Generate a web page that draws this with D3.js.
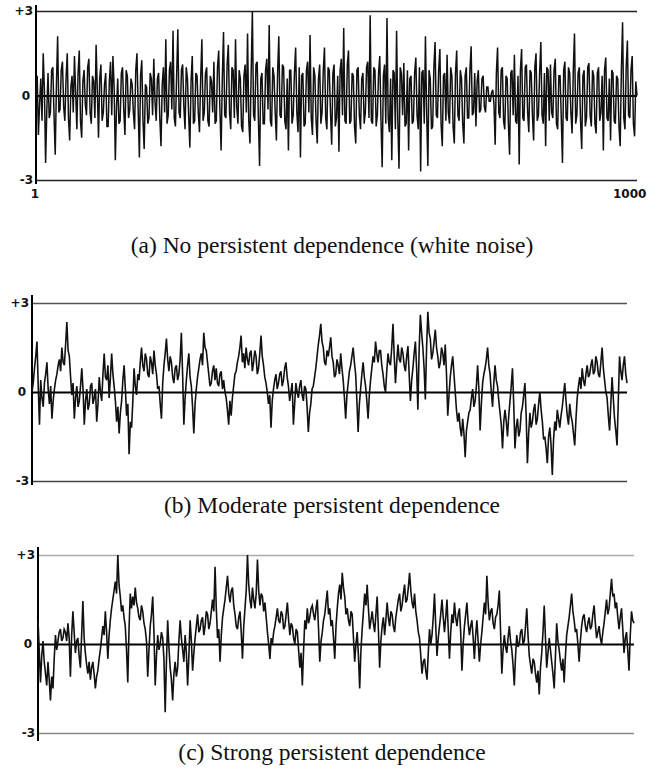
<!DOCTYPE html>
<html>
<head>
<meta charset="utf-8">
<script src="https://cdn.jsdelivr.net/npm/d3@7"></script>
<style>
  body { margin: 0; background: #fff; }
  .tick-label { font-family: "DejaVu Sans", sans-serif; font-weight: bold; font-size: 12px; fill: #111; }
  .caption { font-family: "Liberation Serif", "Times New Roman", serif; font-size: 23.5px; fill: #111; }
</style>
</head>
<body>
<div id="chart-area"></div>
<script>

// (a) white noise left to right
var seriesA = [
  0, 0.7, -1.4, -0.3, 0.6, -0.9, 1.5, 0.2, -2.4, -0.5, 0.8, -0.8, -0.6, 0.9, 1.0, -0.7, -2.1, 0.4, 2.1, -0.6,
  -0.5, 0.9, 1.2, -0.4, -0.9, 0.6, 1.5, -0.8, -1.6, 0.3, 0.7, -0.6, 1.4, 0.1, -1.2, 0.8, 1.6, -0.9, -1.5, 0.5,
  0.9, -0.3, -0.7, 1.0, 1.3, -0.6, -1.0, 0.7, 0.5, -0.8, 1.8, 0.2, -1.5, 0.6, 1.1, -0.9, -0.6, 0.4, 0.8, -1.1,
  -1.1, 0.5, 1.2, -0.7, 1.4, 0.3, -2.3, -0.4, 0.6, -1.0, -0.9, 0.8, 1.0, -0.5, -1.4, 0.9, 0.7, -0.8, -0.5, 0.6,
  0.4, -0.6, -1.2, 0.9, 1.5, -0.5, -2.2, 0.7, 1.25, -0.9, -1.9, 0.4, 0.3, -1.0, -0.8, 0.8, 0.6, -0.7, 1.3, -0.2,
  -0.9, 0.6, 0.8, -0.8, -1.8, 0.4, 1.0, -0.6, 2.0, -1.0, -0.7, 0.9, 1.2, -0.5, 2.3, -0.8, -1.1, 0.7, 2.35, -0.6,
  -0.8, 0.9, 1.1, -0.4, -1.2, 1.0, 0.6, -0.7, -1.85, 0.5, 1.4, -1.0, -0.9, 0.8, 0.7, -0.6, -1.3, 0.6, 2.0, -0.9,
  -0.6, 0.8, 1.0, -0.9, -1.1, 0.7, 0.5, -0.6, 1.2, -1.0, -0.9, 1.0, 1.6, -0.5, -1.95, 0.6, 2.25, -0.7, -0.8, 1.1,
  1.8, -0.6, -1.2, 1.0, 0.9, -0.8, 2.0, -0.4, -1.0, 0.9, 0.6, -1.1, -1.3, 0.7, 1.1, -0.6, 2.2, -0.9, -1.7, 0.8,
  3.0, -0.7, -0.9, 1.1, 1.2, -0.8, -2.5, 0.6, 0.8, -1.0, -1.0, 0.9, 1.3, -0.5, 2.5, -0.9, -1.1, 1.0, 0.7, -0.6,
  -1.6, 0.8, 2.1, -0.7, -0.8, 1.1, 1.0, -0.9, -1.2, 0.6, -1.95, 0.9, 0.9, -1.0, -0.7, 0.8, 1.7, -0.6, -1.3, 1.0,
  -2.2, 0.7, 0.8, -1.1, -1.0, 0.9, 1.2, -0.6, 2.15, -0.8, -1.4, 1.0, 0.7, -0.9, -1.7, 0.6, 1.1, -1.0, -0.6, 0.9,
  1.7, -0.8, -1.2, 1.0, 0.9, -0.6, -1.75, 0.8, 1.1, -1.1, -0.8, 0.7, -2.0, 0.9, 1.3, -0.7, 2.4, -0.9, -1.0, 1.1,
  1.6, -1.0, -0.9, 0.8, 0.7, -1.1, -1.7, 0.9, 1.0, -0.7, -1.2, 0.6, 0.8, -1.0, -0.6, 1.0, 1.2, -0.8, 2.85, -0.9,
  -1.0, 1.0, 0.9, -1.1, -0.7, 0.8, 1.4, -0.9, -2.55, 0.7, 1.1, -1.0, 2.75, -0.8, -1.3, 0.6, -2.3, 0.9, 0.8, -1.2,
  2.3, -0.9, -2.6, 1.0, 0.8, -0.7, 1.15, -1.1, -1.0, 0.9, -1.95, 0.6, 0.7, -1.0, -0.9, 0.8, 1.35, -0.7, -1.2, 1.0,
  -2.7, 0.8, 0.9, -1.0, 2.1, -0.6, -2.5, 0.9, 0.6, -1.2, -1.1, 1.0, 1.9, -0.7, -0.8, 0.9, 1.65, -1.0, -1.8, 0.7,
  0.8, -0.9, 1.45, -0.6, -1.0, 1.0, 0.7, -1.1, -1.7, 0.8, 1.6, -0.7, -0.9, 0.9, 0.6, -1.0, -1.7, 0.7, 1.0, -0.8,
  -0.8, 0.9, 1.75, -0.7, -0.6, 0.8, -1.1, 0.5, 0.9, -0.6, -0.5, 0.6, 0.7, -0.4, -0.6, 0.3, 0.3, -0.2, -0.2, 0.1,
  0.2, -0.3, -1.75, 0.8, 1.7, -0.6, -0.8, 0.9, 1.0, -0.9, -1.2, 0.7, 0.6, -1.0, -2.1, 0.8, 0.9, -0.7, 1.45, -0.9,
  -1.0, 0.7, -2.45, 0.9, 1.65, -0.8, -0.9, 1.0, 1.1, -0.6, -1.3, 0.9, 0.8, -0.7, -1.6, 1.0, 1.5, -0.9, -0.7, 0.8,
  1.9, -0.7, -1.0, 0.8, -1.8, 1.0, 0.9, -0.9, 1.1, -0.6, -0.8, 0.9, 1.3, -1.0, -1.2, 0.7, 0.7, -0.8, -2.4, 0.9,
  1.2, -0.8, -0.9, 1.0, 0.8, -0.6, -1.35, 0.9, 2.2, -1.0, -0.7, 0.8, 1.0, -0.9, -1.9, 0.7, 0.9, -1.1, -0.8, 1.0,
  1.15, -0.7, -1.1, 0.9, 0.7, -1.0, -1.35, 0.8, 1.0, -0.9, -0.6, 0.7, -1.95, 0.9, 1.35, -0.8, -0.9, 0.6, -1.6, 0.9,
  0.8, -0.9, -1.0, 0.7, 0.6, -1.1, -1.8, 0.9, 2.6, -0.8, -1.2, 1.0, 1.95, -0.7, -0.8, 0.9, 1.4, -1.0, -1.45, 0.5, 0.0
];

// (b) moderate persistence
var seriesB = [
  0, 0.3, 0.8, 1.2, 1.7, 0.2, -1.1, 0.4, -0.2, -0.5, 0.3, 0.6, 1.0, 0.1, -0.4, 0.2, -0.9, -0.3, 0.1, 0.4,
  0.6, 0.9, 1.1, 0.7, 1.5, 1.0, 0.9, 1.6, 2.36, 1.4, 1.2, 0.5, -0.1, 0.3, -0.9, -0.2, 0.2, -0.5, -0.3, 0.2,
  0.8, 0.1, -1.1, -0.3, 0.1, -0.6, -0.4, 0.2, 0.3, -0.4, -0.2, 0.1, -1.0, -0.4, 0.5, 0.0, -0.3, 0.6, 1.3, 0.5,
  0.4, 0.9, -0.2, 0.5, 1.3, 0.6, 0.2, -0.3, -1.0, -0.5, -1.4, -0.7, -0.3, 0.4, 0.9, 0.1, -0.8, -0.4, -2.1, -1.0,
  -1.2, -0.3, 0.8, 0.2, -0.1, 0.6, 0.4, 1.0, 1.5, 0.9, 0.7, 1.3, 1.1, 0.6, 0.5, 1.2, 1.0, 0.6, 1.4, 0.9,
  0.6, 0.1, 0.2, -0.4, -0.9, 0.3, 0.9, 1.3, 1.8, 1.1, 0.7, 1.2, 1.0, 0.5, 0.3, 0.8, 0.9, 0.4, 0.6, 1.1,
  2.0, 0.6, -1.1, -0.2, 0.4, 0.9, 1.3, 0.5, 0.2, -0.5, -1.4, -0.4, 0.1, 0.5, 0.8, 1.1, 1.3, 0.9, 2.0, 1.5,
  1.4, 1.0, 0.6, 0.2, 0.3, 0.7, 0.9, 0.4, 0.8, 0.3, 0.2, 0.6, 0.7, 0.1, 0.4, 0.0, -0.2, -0.6, -1.1, -0.3,
  -0.8, -0.2, 0.2, 0.6, 0.7, 1.0, 1.2, 1.5, 1.9, 1.0, 1.3, 0.8, 1.5, 1.1, 0.9, 1.3, 1.4, 0.7, 1.0, 1.4,
  1.2, 0.6, 0.8, 1.3, 1.9, 1.2, 0.9, 0.5, 0.3, 0.0, -0.4, -0.1, -1.2, -0.3, 0.1, 0.4, 0.6, 0.1, 0.3, 0.6,
  0.7, 0.2, 0.4, 0.8, 1.0, 0.5, 0.2, -0.3, 0.0, 0.3, -1.1, -0.4, 0.3, 0.0, -0.2, 0.2, 0.4, -0.1, -0.3, 0.2,
  0.1, -0.5, -1.35, -0.7, -0.4, 0.1, 0.2, 0.5, 0.8, 1.2, 1.6, 1.9, 2.3, 1.7, 1.5, 1.0, 0.9, 1.4, 1.2, 1.5,
  1.84, 1.2, 1.0, 0.5, 0.6, 1.1, 0.9, 0.6, 1.3, 0.8, 0.4, -0.2, -0.9, -0.1, 0.3, 0.7, 0.9, 1.2, 1.5, 1.0,
  0.6, -0.3, -1.35, -0.4, 0.1, 0.6, 1.0, 0.5, 0.2, -0.3, -0.9, -0.1, 0.4, 0.8, 1.2, 1.0, 1.7, 1.3, 1.0, 1.4,
  1.4, 0.9, 0.6, 0.2, 0.0, 0.7, 1.3, 1.0, 0.9, 1.5, 2.3, 1.2, 0.3, 1.0, 1.6, 1.1, 1.0, 1.5, 1.3, 0.9,
  0.7, 1.2, 1.55, 0.6, -0.3, 0.4, 0.8, 1.3, 1.7, 0.8, -0.6, 1.4, 2.6, 2.0, 1.5, 0.8, -0.25, 1.5, 2.7, 2.0,
  1.8, 1.1, 1.3, 1.7, 2.1, 1.5, 1.2, 0.8, 1.0, 1.5, 1.3, 0.9, 1.6, 0.6, -0.8, -0.1, 0.5, 0.9, 1.2, 0.6,
  0.0, -0.6, -1.0, -0.7, -1.2, -1.5, -0.9, -1.4, -2.2, -1.3, -1.0, -0.7, -0.6, -0.2, 0.1, -0.5, -0.3, 0.2, 0.9, 0.1,
  -1.3, -0.4, 0.3, 0.6, 0.8, 1.1, 1.5, 0.9, 0.6, 0.0, -0.5, 0.3, 0.9, 0.4, 0.2, -0.3, -0.7, -1.1, -1.9, -1.0,
  -0.6, -1.0, -1.5, -0.8, -0.3, 0.2, 0.8, -0.4, -1.9, -1.2, -0.9, -1.5, -1.3, -0.7, -0.5, -0.1, 0.3, -0.8, -2.4, -1.4,
  -0.7, -1.2, -1.0, -0.6, -0.4, -1.1, -0.9, -0.4, 0.0, -0.6, -1.0, -1.6, -1.5, -1.9, -2.4, -1.5, -1.2, -1.8, -2.8, -1.6,
  -1.0, -1.3, -0.6, -0.9, -1.2, -0.8, -0.5, -0.1, 0.3, -0.3, -0.8, -1.1, -0.4, -0.8, -1.0, -1.4, -1.8, -0.9, -0.2, 0.2,
  0.5, 0.1, 0.8, 0.4, 0.2, 0.6, 0.9, 0.5, 0.6, 0.9, 1.1, 0.6, 0.7, 1.2, 1.0, 0.6, 0.5, 1.0, 1.5, 0.8,
  0.4, 0.0, -0.2, -0.8, -1.3, -0.4, 0.5, -0.2, -0.9, -1.3, -1.8, -0.3, 1.2, 0.7, 0.4, 0.9, 1.2, 0.6, 0.3
];

// (c) strong persistence
var seriesC = [
  0.8, -0.2, -1.3, -0.4, 0.1, -0.6, -1.0, -1.4, -0.6, -1.2, -1.9, -1.1, -1.5, -0.5, 0.3, -0.2, 0.1, 0.4, 0.5, 0.1,
  0.2, 0.5, 0.4, 0.1, 0.7, 0.2, -1.1, 0.3, 1.1, 0.4, -0.3, 0.1, 0.2, -0.4, -0.8, 0.3, 1.45, 0.2, -0.3, -0.7,
  -1.0, -0.6, -1.2, -0.8, -0.6, -1.0, -1.5, -1.1, -0.9, -0.5, -0.2, 0.2, 0.6, 0.3, 1.1, 0.4, -0.5, 0.3, 0.8, 1.2,
  1.5, 1.8, 2.1, 1.7, 3.0, 2.0, 1.6, 1.1, 1.3, 0.9, 0.6, -0.2, -1.3, 0.5, 1.7, 1.2, 1.6, 1.3, 1.9, 1.4,
  1.2, 0.9, 0.8, 1.3, 1.1, 0.7, 0.5, 0.1, -1.1, -0.2, 0.6, 1.0, 1.6, 0.4, -1.4, -0.4, 0.3, -0.2, 0.0, 0.4,
  0.2, -0.5, -2.3, -0.6, 0.8, -0.1, -0.8, -1.2, -1.9, -1.0, -0.6, -1.1, -0.8, 0.1, 0.8, 0.2, -0.2, -0.6, 0.3, -0.3,
  -1.4, -0.4, 0.8, 0.1, -0.9, -0.3, 0.2, 0.6, 1.0, 0.4, 0.5, 0.8, 0.9, 0.3, 0.6, 1.1, 1.0, 0.5, 0.7, 1.1,
  1.5, 1.1, 2.6, 1.2, 0.2, 0.5, -0.6, 0.3, 0.9, 1.2, 1.5, 1.9, 2.3, 1.7, 1.4, 1.8, 1.9, 1.3, 1.0, 0.6,
  0.5, 0.9, 1.1, 0.4, -0.5, 0.6, 1.2, 1.8, 3.0, 2.0, 1.5, 1.2, 1.9, 1.5, 1.2, 1.7, 2.85, 1.8, 1.3, 1.7,
  1.6, 1.1, 1.4, 0.9, 0.4, 0.0, -0.5, 0.2, 0.0, 0.4, 0.6, 0.9, 1.2, 0.8, 0.7, 1.1, 1.0, 0.5, 0.6, 1.0,
  1.4, 0.8, 0.3, 0.7, 0.6, 0.2, 0.0, 0.5, 0.4, -0.2, -0.8, -0.3, -1.4, -0.2, 0.8, 0.5, 1.2, 0.7, 0.9, 1.2,
  1.3, 1.0, 0.8, 1.2, 1.5, 0.5, -0.6, 0.1, 0.4, 0.8, 1.0, 1.4, 1.8, 1.0, 1.2, 0.6, 0.8, 0.2, -0.5, 0.6,
  1.2, 1.7, 2.0, 1.5, 2.4, 1.9, 1.6, 1.0, 1.2, 0.8, 0.6, 1.1, 1.0, 0.2, -0.6, 0.0, 0.4, -0.4, -1.5, -0.2,
  0.5, 1.1, 1.7, 1.3, 2.0, 1.2, 0.5, 0.8, 1.1, 0.7, 0.4, 1.0, 1.6, 0.5, -0.8, 0.1, 0.6, 0.9, 0.3, 0.8,
  1.4, 0.9, 0.6, 1.1, 1.0, 0.6, 0.4, 0.9, 1.2, 1.5, 1.7, 1.1, 1.3, 1.7, 2.0, 1.4, 1.5, 1.9, 2.4, 1.8,
  1.4, 1.2, 1.7, 1.1, 0.8, 0.4, 0.2, -0.4, -1.0, -0.6, -0.5, -0.9, -1.2, -0.3, 0.5, 0.0, 0.3, 0.9, 1.7, 0.6,
  -0.4, 0.2, 0.6, 1.0, 1.5, 0.9, 0.4, 0.9, 1.5, 0.5, -0.5, 0.4, 1.0, 0.7, 1.4, 0.9, 0.6, 1.0, 1.2, 0.4,
  -0.9, 0.0, 0.6, 1.0, 1.4, 0.7, 0.3, 0.6, 0.8, 0.2, -0.5, 0.3, 0.8, 0.1, -0.6, 0.0, 0.4, 0.9, 1.4, 1.0,
  2.3, 1.4, 0.8, 1.1, 1.2, 0.7, 0.5, 0.9, 1.0, 1.3, 1.8, 0.4, -1.0, -0.2, 0.3, -0.1, -0.3, 0.2, 0.6, 0.1,
  -0.2, -0.7, -1.4, -0.4, 0.3, -0.1, 0.0, 0.4, 0.5, 0.0, 0.1, 0.6, 1.2, 0.3, -0.4, -0.7, -1.0, -0.5, -0.6, -1.0,
  -1.3, -0.9, -1.7, -0.8, -0.3, 0.4, 1.3, 0.2, -0.8, -0.3, 0.2, -0.2, -0.6, -1.0, -1.5, -0.4, 0.7, 0.1, -0.2, -0.6,
  -0.9, -0.5, -1.3, -0.4, 0.3, 0.6, 0.9, 1.3, 1.7, 1.1, 0.8, 0.4, 0.5, 0.0, -0.6, 0.1, 0.6, 0.9, 1.0, 0.6,
  0.4, 0.7, 0.9, 0.5, 0.6, 1.0, 1.3, 0.7, 0.2, 0.4, 0.6, 0.2, 0.0, 0.4, 0.7, 1.1, 1.5, 1.0, 1.2, 1.7,
  2.2, 1.6, 1.7, 1.2, 1.4, 0.9, 0.5, 0.9, 1.2, 0.5, -0.3, 0.2, 0.4, -0.2, -0.9, 0.3, 1.1, 0.8, 0.7
];

var captions = [
  "(a) No persistent dependence (white noise)",
  "(b) Moderate persistent dependence",
  "(c)  Strong persistent dependence"
];

var yTicks = [-3, 0, 3];
var yTickLabels = ["-3", "0", "+3"];
var xTicks = [1, 1000];

var width = 659, height = 773;

var svg = d3.select("#chart-area").append("svg")
    .attr("width", width)
    .attr("height", height);

// panel layout, pixel positions
var panels = [
  {data: seriesA, x0: 36, x1: 637, yTop: 11,  yBot: 180, axTop: 5,   axBot: 184,
   gridTop: "#222", gridBot: "#222", captionY: 253, xLabels: true, lw: 1.5},
  {data: seriesB, x0: 32, x1: 627, yTop: 303, yBot: 481, axTop: 295, axBot: 485,
   gridTop: "#555", gridBot: "#444", captionY: 513, xLabels: false, lw: 1.6},
  {data: seriesC, x0: 38, x1: 634, yTop: 555, yBot: 733, axTop: 547, axBot: 741,
   gridTop: "#aaa", gridBot: "#888", captionY: 760, xLabels: false, lw: 1.6}
];

panels.forEach(function(p, k) {
  var n = p.data.length;

  var x = d3.scaleLinear()
    .domain([1, 1000])
    .range([p.x0, p.x1]);

  var y = d3.scaleLinear()
    .domain([-3, 3])
    .range([p.yBot, p.yTop]);

  var g = svg.append("g").attr("class", "panel");

  // horizontal reference lines at -3, 0, +3
  var yAxis = d3.axisLeft(y)
    .tickValues(yTicks)
    .tickSize(-(p.x1 - p.x0))
    .tickPadding(3)
    .tickFormat(function(d, i) { return yTickLabels[i]; });

  var yAxisGroup = g.append("g")
    .attr("transform", "translate(" + p.x0 + ",0)")
    .call(yAxis);

  yAxisGroup.select(".domain").remove();
  yAxisGroup.selectAll(".tick line")
    .attr("stroke", function(d) { return d == 0 ? "#000" : (d > 0 ? p.gridTop : p.gridBot); })
    .attr("stroke-width", function(d) { return d == 0 ? 2 : 1.5; });
  yAxisGroup.selectAll(".tick text")
    .attr("class", "tick-label")
    .attr("dx", function(d) { return d == 0 ? -3 : 0; });

  // vertical axis, runs a bit past +3 / -3
  g.append("line")
    .attr("x1", p.x0).attr("x2", p.x0)
    .attr("y1", p.axTop).attr("y2", p.axBot)
    .attr("stroke", "#000")
    .attr("stroke-width", 2);

  // the series
  var line = d3.line()
    .x(function(d, i) { return x(1 + i * 999 / (n - 1)); })
    .y(function(d) { return y(d); });

  g.append("path")
    .datum(p.data)
    .attr("fill", "none")
    .attr("stroke", "#111")
    .attr("stroke-width", p.lw)
    .attr("d", line);

  if (p.xLabels) {
    g.selectAll(".x-label")
      .data(xTicks)
      .enter().append("text")
      .attr("class", "tick-label")
      .attr("x", function(d) { return x(d); })
      .attr("y", p.yBot + 18)
      .attr("text-anchor", function(d) { return d == 1 ? "middle" : "start"; })
      .attr("dx", function(d) { return d == 1 ? -1 : -24; })
      .text(function(d) { return d; });
  }

  svg.append("text")
    .attr("class", "caption")
    .attr("x", 332)
    .attr("y", p.captionY)
    .attr("text-anchor", "middle")
    .text(captions[k]);
});

</script>
</body>
</html>
